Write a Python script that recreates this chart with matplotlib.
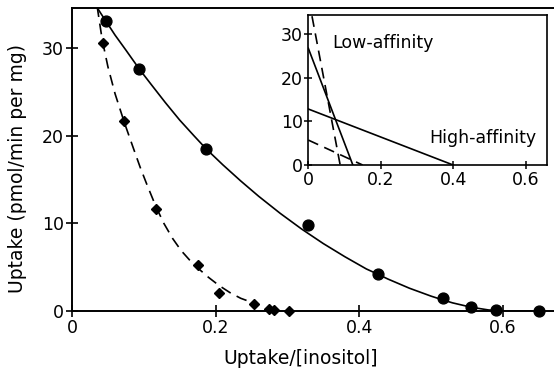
import matplotlib
matplotlib.use("Agg")
from matplotlib import pyplot as plt

# ---- data ----
# Scatchard-type plot: uptake vs uptake/[inositol]
circ_x = [0.048, 0.094, 0.187, 0.328, 0.426, 0.517, 0.556, 0.590, 0.651]
circ_y = [33.1, 27.6, 18.5, 9.8, 4.2, 1.5, 0.5, 0.1, 0.0]
diam_x = [0.043, 0.073, 0.117, 0.176, 0.205, 0.253, 0.274, 0.281, 0.302]
diam_y = [30.6, 21.7, 11.7, 5.3, 2.0, 0.8, 0.2, 0.1, 0.0]

# fitted curves (traced point by point)
solid_x = [0.030, 0.040, 0.048, 0.060, 0.075, 0.094, 0.110, 0.130, 0.150, 0.170,
           0.187, 0.210, 0.235, 0.260, 0.290, 0.320, 0.350, 0.380, 0.410, 0.426,
           0.440, 0.470, 0.500, 0.517, 0.530, 0.556, 0.580, 0.600, 0.640]
solid_y = [35.3, 34.0, 33.0, 31.5, 29.8, 27.6, 25.9, 23.8, 21.8, 20.0,
           18.5, 16.7, 14.85, 13.1, 11.15, 9.35, 7.7, 6.2, 4.8, 4.2,
           3.65, 2.6, 1.7, 1.25, 0.93, 0.43, 0.12, 0.0, 0.0]
dash_x = [0.035, 0.042, 0.050, 0.060, 0.073, 0.085, 0.095, 0.105, 0.117, 0.128,
          0.140, 0.152, 0.164, 0.176, 0.190, 0.205, 0.220, 0.235, 0.250, 0.258]
dash_y = [34.8, 31.0, 27.9, 24.8, 21.5, 18.7, 16.4, 14.3, 11.9, 10.0,
          8.3, 6.9, 5.8, 4.85, 3.85, 2.9, 2.1, 1.45, 1.0, 0.8]

# inset: component lines
hi_x = [0.0, 0.40]
hi_y = [12.8, 0.0]
lo_x = [0.0, 0.123]
lo_y = [26.7, 0.0]
hi_dash_x = [0.0, 0.150]
hi_dash_y = [5.7, 0.0]
lo_dash_x = [0.0, 0.088]
lo_dash_y = [38.5, 0.0]

plt.rcParams['font.family'] = 'DejaVu Sans'
fig = plt.figure(figsize=(5.54, 3.68), dpi=100)

W, H = 554.0, 368.0
ax = fig.add_axes([72/W, (H-311)/H, (W-72)/W, (311-8)/H])
ax.plot(solid_x, solid_y, '-', color='black', lw=1.2)
ax.plot(dash_x, dash_y, '--', color='black', lw=1.2, dashes=(6.5, 4))
ax.plot(circ_x, circ_y, 'o', color='black', ms=7.8, clip_on=False)
ax.plot(diam_x, diam_y, 'D', color='black', ms=5.5, clip_on=False)
ax.set_xlim(0, (W-72)/718)
ax.set_ylim(0, 34.6)
ax.set_xticks([0, 0.2, 0.4, 0.6])
ax.set_xticklabels(['0', '0.2', '0.4', '0.6'])
ax.set_yticks([0, 10, 20, 30])
ax.spines['right'].set_visible(False)
for s in ['left', 'bottom', 'top']:
    ax.spines[s].set_linewidth(1.4)
ax.tick_params(direction='inout', length=8, width=1.2, labelsize=12.5, pad=2)
ax.set_xlabel('Uptake/[inositol]', fontsize=13.5)
ax.xaxis.set_label_coords(0.475, -0.125)
ax.set_ylabel('Uptake (pmol/min per mg)', fontsize=13.5)
ax.yaxis.set_label_coords(-0.093, 0.47)

# inset
ins = fig.add_axes([308.3/W, (H-165)/H, (547.3-308.3)/W, (165-15)/H])
ins.plot(hi_x, hi_y, '-', color='black', lw=1.2)
ins.plot(lo_x, lo_y, '-', color='black', lw=1.2)
ins.plot(hi_dash_x, hi_dash_y, '--', color='black', lw=1.2, dashes=(6.5, 4))
ins.plot(lo_dash_x, lo_dash_y, '--', color='black', lw=1.2, dashes=(6.5, 4))
ins.set_xlim(0, 0.66)
ins.set_ylim(0, 34.3)
ins.set_xticks([0, 0.2, 0.4, 0.6])
ins.set_xticklabels(['0', '0.2', '0.4', '0.6'])
ins.set_yticks([0, 10, 20, 30])
for s in ins.spines.values():
    s.set_linewidth(1.2)
ins.tick_params(direction='inout', length=6, width=1.1, labelsize=12.5, pad=1)
ins.text(0.065, 27.8, 'Low-affinity', fontsize=12.5, va='center')
ins.text(0.334, 6.1, 'High-affinity', fontsize=12.5, va='center')

fig.savefig('out.png', dpi=100)
